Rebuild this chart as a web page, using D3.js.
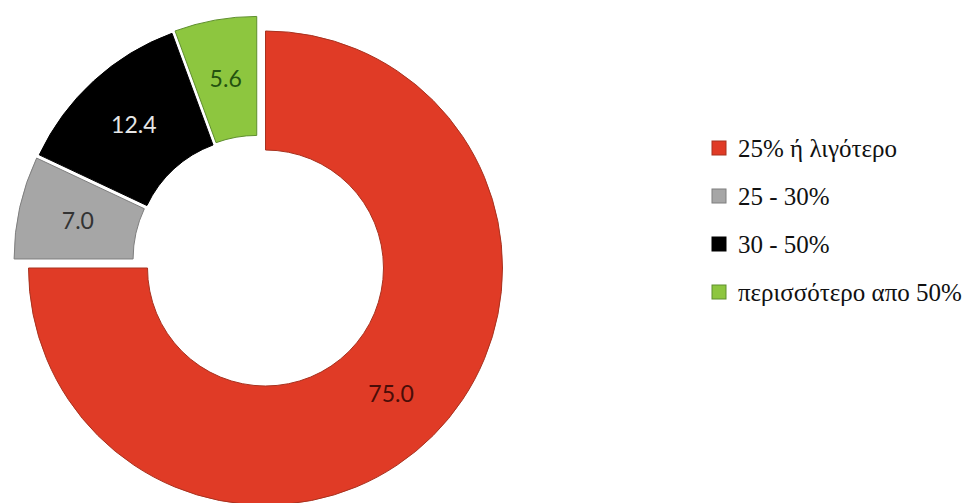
<!DOCTYPE html>
<html>
<head>
<meta charset="utf-8">
<script src="https://cdn.jsdelivr.net/npm/d3@7"></script>
<style>
  html, body { margin: 0; padding: 0; background: #fff; }
  svg { display: block; }
  .legend-text { font-family: "Liberation Serif", "Tinos", "Noto Serif", "FreeSerif", "Nimbus Roman", "DejaVu Serif", "Times New Roman", serif; }
  .value-label { font-family: "Lato", "Open Sans", sans-serif; }
</style>
</head>
<body>
<svg id="chart" width="970" height="503"></svg>
<script>
// Share of households by category
const categories = ["25% ή λιγότερο", "25 - 30%", "30 - 50%", "περισσότερο απο 50%"];
const values = [75.0, 7.0, 12.4, 5.6];
const valueLabels = ["75.0", "7.0", "12.4", "5.6"];
const exploded = [false, true, true, true];

const fills = ["#e03b26", "#a6a6a6", "#000000", "#8dc63f"];
const edges = ["#a8321f", "#7f7f7f", "#000000", "#5f8f2e"];
const labelColors = ["#4a0d08", "#333333", "#e6e6e6", "#24520f"];

const width = 970, height = 503;
const cx = 265.5, cy = 268;
const outerR = 237, innerR = 118;
const explodeDist = 17;

const svg = d3.select("#chart");
svg.append("rect").attr("width", width).attr("height", height).attr("fill", "#fff");

const pie = d3.pie().sort(null).startAngle(0).endAngle(2 * Math.PI);
const arcs = pie(values);
const arc = d3.arc().innerRadius(innerR).outerRadius(outerR);

// direction of the detached group of slices
const grp = arcs.filter((a, i) => exploded[i]);
const groupMid = (d3.min(grp, a => a.startAngle) + d3.max(grp, a => a.endAngle)) / 2;

function offset(a, i) {
  if (!exploded[i]) return [0, 0];
  const mid = (a.startAngle + a.endAngle) / 2;
  const ang = mid + 0.6 * (groupMid - mid);
  return [explodeDist * Math.sin(ang), -explodeDist * Math.cos(ang)];
}

const g = svg.append("g").attr("transform", `translate(${cx},${cy})`);

const slices = g.selectAll("g.slice")
  .data(arcs)
  .join("g")
  .attr("class", "slice")
  .attr("transform", (a, i) => { const o = offset(a, i); return `translate(${o[0]},${o[1]})`; });

slices.append("path")
  .attr("d", arc)
  .attr("fill", (a, i) => fills[i])
  .attr("stroke", (a, i) => edges[i])
  .attr("stroke-width", 1);

slices.append("text")
  .attr("class", "value-label")
  .attr("transform", a => { const c = arc.centroid(a); return `translate(${c[0]},${c[1]})`; })
  .attr("text-anchor", "middle")
  .attr("dy", "0.36em")
  .attr("font-size", 23)
  .attr("fill", (a, i) => labelColors[i])
  .text((a, i) => valueLabels[i]);

// legend
const legend = svg.append("g").attr("transform", "translate(712,148)");
const rowGap = 48;
const items = legend.selectAll("g")
  .data(categories)
  .join("g")
  .attr("transform", (d, i) => `translate(0,${i * rowGap})`);

items.append("rect")
  .attr("x", 0).attr("y", -7)
  .attr("width", 14).attr("height", 14)
  .attr("fill", (d, i) => fills[i])
  .attr("stroke", (d, i) => edges[i])
  .attr("stroke-width", 1);

items.append("text")
  .attr("class", "legend-text")
  .attr("x", 26)
  .attr("dy", "0.35em")
  .attr("font-size", 25)
  .attr("fill", "#111")
  .text(d => d);
</script>
</body>
</html>
